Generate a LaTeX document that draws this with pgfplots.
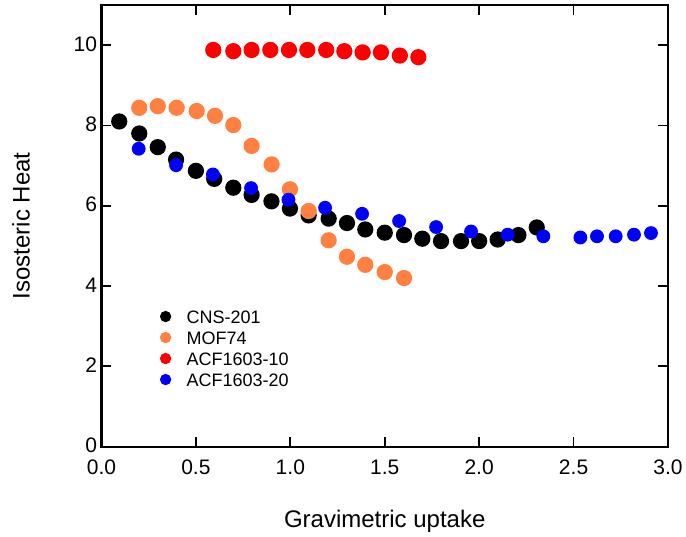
\documentclass[border=0pt]{standalone}
\usepackage{pgfplots}
\pgfplotsset{compat=1.18}
\usepackage{fontspec}
\setmainfont{Liberation Sans}
\definecolor{myorange}{RGB}{255,128,64}
\begin{document}
\begin{tikzpicture}
\begin{axis}[
  scale only axis,
  width=566.5bp, height=441.7bp,
  xmin=0, xmax=3, ymin=0, ymax=11,
  xtick={0,0.5,...,3}, ytick={0,2,...,10},
  line width=2.2bp,
  tick align=inside,
  major tick length=10bp,
  tick style={black, line width=1.8bp},
  /pgf/number format/assume math mode=true,
  ticklabel style={font=\fontsize{21bp}{24bp}\selectfont},
  xticklabel style={yshift=-9bp, /pgf/number format/.cd, fixed, fixed zerofill, precision=1},
  yticklabel style={yshift=1bp, /pgf/number format/.cd, fixed, precision=0},
  label style={font=\fontsize{24bp}{28bp}\selectfont},
  xlabel={Gravimetric uptake},
  ylabel={Isosteric Heat},
  xlabel style={at={(axis description cs:0.5,-0.170)}, anchor=center},
  ylabel style={at={(axis description cs:-0.142,0.5)}, anchor=center},
  legend cell align=left,
  legend style={draw=none, fill=none, at={(axis cs:0.294,3.58)}, anchor=north west,
    font=\fontsize{18bp}{21bp}\selectfont, row sep=0bp,
    nodes={text height=13bp, text depth=0bp, inner sep=4bp}},
  legend image code/.code={\path[draw=none,fill=none] (0bp,0bp) -- (17bp,0bp); \path[#1, draw=none, mark size=4.5bp] plot coordinates {(0bp,0bp)};},
]
\addplot[only marks, mark=*, mark size=7bp, black, mark options={draw=none, fill=black}] coordinates {
(0.094,8.10) (0.2,7.80) (0.298,7.46) (0.395,7.15) (0.5,6.87) (0.597,6.67) (0.698,6.45) (0.795,6.27)
(0.9,6.11) (0.998,5.93) (1.097,5.76) (1.203,5.68) (1.30,5.57) (1.397,5.41) (1.5,5.33) (1.602,5.27)
(1.699,5.18) (1.798,5.12) (1.904,5.12) (2.0,5.12) (2.098,5.16) (2.208,5.27) (2.305,5.46)
};
\addlegendentry{CNS-201}
\addplot[only marks, mark=*, mark size=7bp, myorange, mark options={draw=none, fill=myorange}] coordinates {
(0.2,8.44) (0.298,8.48) (0.398,8.44) (0.504,8.36) (0.601,8.24) (0.698,8.01) (0.795,7.49) (0.901,7.03)
(0.998,6.41) (1.097,5.87) (1.203,5.14) (1.30,4.73) (1.397,4.53) (1.5,4.35) (1.602,4.20)
};
\addlegendentry{MOF74}
\addplot[only marks, mark=*, mark size=7bp, red, mark options={draw=none, fill=red}] coordinates {
(0.592,9.88) (0.698,9.85) (0.795,9.88) (0.894,9.88) (0.993,9.88) (1.09,9.88) (1.19,9.88) (1.286,9.85)
(1.383,9.82) (1.48,9.82) (1.58,9.74) (1.678,9.70)
};
\addlegendentry{ACF1603-10}
\addplot[only marks, mark=*, mark size=5.8bp, blue, mark options={draw=none, fill=blue}] coordinates {
(0.197,7.42) (0.395,7.01) (0.59,6.78) (0.792,6.44) (0.99,6.15) (1.184,5.95) (1.38,5.80) (1.576,5.62)
(1.772,5.47) (1.957,5.36) (2.151,5.28) (2.34,5.24) (2.536,5.21) (2.624,5.24) (2.723,5.24) (2.82,5.28)
(2.91,5.32)
};
\addlegendentry{ACF1603-20}
\end{axis}
\path (current axis.south west) ++(-101.5bp,-87.3bp) rectangle ++(686bp,534bp);
\end{tikzpicture}
\end{document}
